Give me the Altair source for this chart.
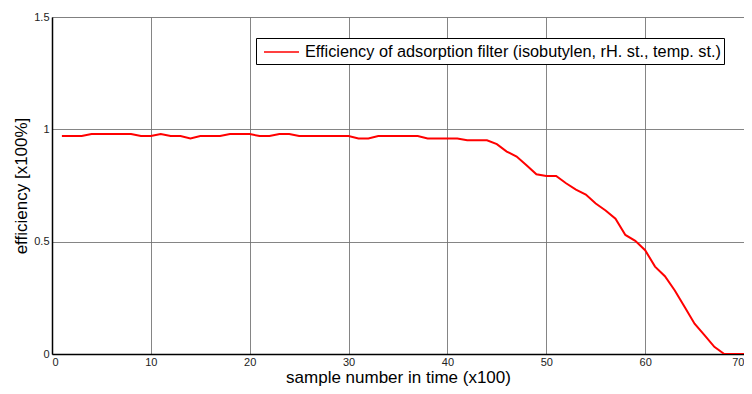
import altair as alt
import pandas as pd

samples = list(range(1, 71))
efficiency = [
    0.97, 0.97, 0.97, 0.979, 0.979, 0.979, 0.979, 0.979, 0.97, 0.97,
    0.979, 0.97, 0.97, 0.959, 0.97, 0.97, 0.97, 0.979, 0.979, 0.979,
    0.97, 0.97, 0.979, 0.979, 0.97, 0.97, 0.97, 0.97, 0.97, 0.97,
    0.959, 0.959, 0.97, 0.97, 0.97, 0.97, 0.97, 0.959, 0.959, 0.959,
    0.959, 0.951, 0.951, 0.951, 0.934, 0.901, 0.879, 0.84, 0.80, 0.792,
    0.792, 0.76, 0.732, 0.71, 0.67, 0.639, 0.602, 0.53, 0.504, 0.462,
    0.389, 0.346, 0.283, 0.209, 0.135, 0.084, 0.032, 0.0, 0.0, 0.0,
]
series_name = "Efficiency of adsorption filter (isobutylen, rH. st., temp. st.)"
x_ticks = [0, 10, 20, 30, 40, 50, 60, 70]
y_ticks = [0, 0.5, 1, 1.5]

df = pd.DataFrame({"sample": samples, "efficiency": efficiency, "series": series_name})

FONT = "Liberation Sans"

chart = alt.Chart(df).mark_line(strokeWidth=2, clip=True).encode(
    x=alt.X("sample:Q",
            scale=alt.Scale(domain=[0, 70], nice=False, zero=False),
            axis=alt.Axis(values=x_ticks, title="sample number in time (x100)",
                          titleFontSize=17, titleFont=FONT, titleFontWeight="normal",
                          titleColor="#000", titlePadding=2,
                          labelFontSize=11, labelFont=FONT, labelColor="#222",
                          labelPadding=2, tickSize=0, domainColor="#000",
                          domainWidth=1.5, gridColor="#707070", gridOpacity=0.85)),
    y=alt.Y("efficiency:Q",
            scale=alt.Scale(domain=[0, 1.5], nice=False),
            axis=alt.Axis(values=y_ticks, format="~g", title="efficiency [x100%]",
                          titleFontSize=17, titleFont=FONT, titleFontWeight="normal",
                          titleColor="#000", titlePadding=3,
                          labelFontSize=11, labelFont=FONT, labelColor="#222",
                          labelPadding=3, tickSize=0,
                          domainColor="#000", domainWidth=1.5,
                          gridColor="#707070", gridOpacity=0.85)),
    color=alt.Color("series:N",
                    scale=alt.Scale(domain=[series_name], range=["#ff0000"]),
                    legend=alt.Legend(title=None, orient="none", legendX=204, legendY=21,
                                      symbolType="M-1.75,0H1.75", symbolSize=400,
                                      symbolOffset=11.5,
                                      symbolStrokeWidth=1.5, labelFontSize=16.3,
                                      labelFont=FONT, labelColor="#000", labelLimit=0,
                                      fillColor="#ffffff", strokeColor="#000",
                                      padding=3, labelOffset=12.5)),
).properties(
    width=692, height=337,
    padding={"left": 44, "top": 9, "right": 0, "bottom": 32},
    autosize=alt.AutoSizeParams(type="none"),
).configure_view(stroke="#000", strokeWidth=1.2).configure(background="#ffffff")

chart.save("out.html", embed_options={"renderer": "svg", "actions": False})
